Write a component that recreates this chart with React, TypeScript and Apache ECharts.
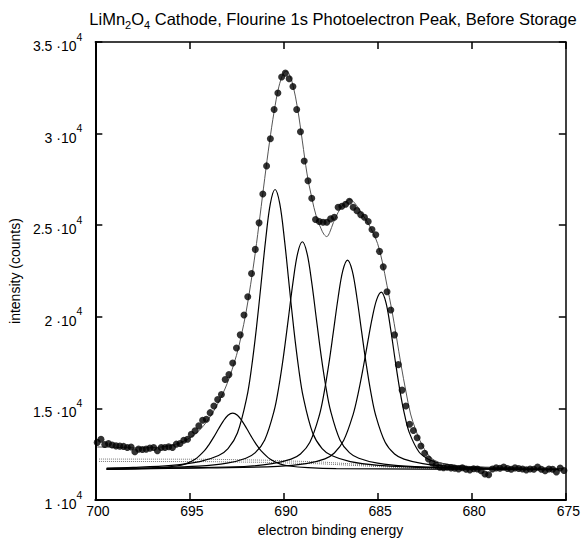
import { useEffect, useRef } from "react";
import * as echarts from "echarts";

const FONT = "'Liberation Sans', Arial, Helvetica, sans-serif";

const titleText = "{n|LiMn}{s|2}{n|O}{s|4}{n| Cathode, Flourine 1s Photoelectron Peak, Before Storage}";
const xAxisTitle = "electron binding energy";
const yAxisTitle = "intensity (counts)";
const yTickMantissas: Record<number, string> = { 10000: "1", 15000: "1.5", 20000: "2", 25000: "2.5", 30000: "3", 35000: "3.5" };

// measured data points (binding energy eV, counts)
const measured: [number, number][] = [
  [699.9, 13150], [699.7, 13320], [699.5, 13030], [699.3, 13090], [699.1, 13010], [698.9, 12960],
  [698.7, 12945], [698.5, 12930], [698.3, 12874], [698.1, 12900], [697.9, 12641], [697.7, 12782],
  [697.5, 12766], [697.3, 12782], [697.1, 12836], [696.9, 12874], [696.7, 12695], [696.5, 12874],
  [696.3, 12874], [696.1, 12912], [695.9, 12874], [695.7, 13053], [695.5, 13091], [695.3, 13270],
  [695.1, 13324], [694.9, 13595], [694.7, 13780], [694.5, 14051], [694.3, 14355], [694.1, 14409],
  [693.9, 14772], [693.7, 15136], [693.5, 15494], [693.3, 15765], [693.1, 16578], [692.9, 16849],
  [692.7, 17484], [692.5, 18297], [692.3, 19018], [692.1, 20103], [691.9, 21101], [691.7, 22364],
  [691.5, 23682], [691.3, 25130], [691.1, 26703], [690.9, 28238], [690.7, 29724], [690.5, 31313],
  [690.3, 32218], [690.1, 33086], [689.9, 33303], [689.7, 32994], [689.5, 32576], [689.3, 31313],
  [689.1, 30103], [688.9, 28509], [688.7, 27424], [688.5, 26470], [688.3, 25309], [688.1, 25200],
  [687.9, 25168], [687.7, 25168], [687.5, 25347], [687.3, 25439], [687.1, 25982], [686.9, 26036],
  [686.7, 26150], [686.5, 26307], [686.3, 25982], [686.1, 25797], [685.9, 25580], [685.7, 25439],
  [685.5, 25201], [685.3, 24767], [685.1, 24479], [684.9, 23574], [684.7, 22728], [684.5, 21372],
  [684.3, 20374], [684.1, 19018], [683.9, 17392], [683.7, 16003], [683.5, 15136], [683.3, 14138],
  [683.1, 13800], [682.9, 13400], [682.7, 12950], [682.5, 12560], [682.3, 12240], [682.1, 12020],
  [681.9, 11900], [681.7, 11800], [681.5, 11770], [681.3, 11790], [681.1, 11760], [680.9, 11740],
  [680.7, 11700], [680.5, 11770], [680.3, 11680], [680.1, 11650], [679.9, 11710], [679.7, 11700],
  [679.5, 11600], [679.3, 11420], [679.1, 11380], [678.9, 11700], [678.7, 11760], [678.5, 11740],
  [678.3, 11800], [678.1, 11720], [677.9, 11680], [677.7, 11760], [677.5, 11720], [677.3, 11700],
  [677.1, 11650], [676.9, 11700], [676.7, 11680], [676.5, 11800], [676.3, 11680], [676.1, 11600],
  [675.9, 11700], [675.7, 11680], [675.5, 11540], [675.3, 11750], [675.1, 11620],
];

// overall fit envelope
const envelope: [number, number][] = [
  [699.9, 12900], [699.0, 12880], [698.0, 12850], [697.0, 12860], [696.5, 12900], [696.0, 12980],
  [695.5, 13120], [695.0, 13380], [694.5, 13780], [694.0, 14400], [693.5, 15250], [693.0, 16350],
  [692.5, 17900], [692.25, 18950], [692.0, 20200], [691.75, 21750], [691.5, 23500], [691.25, 25500],
  [691.0, 27550], [690.75, 29500], [690.5, 31200], [690.25, 32550], [690.0, 33300], [689.85, 33400],
  [689.7, 33250], [689.5, 32650], [689.25, 31350], [689.0, 29600], [688.75, 27800], [688.5, 26500],
  [688.25, 25450], [688.0, 24800], [687.85, 24500], [687.7, 24380], [687.55, 24600], [687.35, 25150],
  [687.1, 25700], [686.85, 26100], [686.6, 26350], [686.45, 26400], [686.25, 26250], [686.0, 25900],
  [685.75, 25500], [685.5, 25100], [685.25, 24600], [685.0, 24000], [684.75, 23000], [684.5, 21700],
  [684.25, 20400], [684.0, 18900], [683.75, 17350], [683.5, 15950], [683.25, 14700], [683.0, 13900],
  [682.75, 13250], [682.5, 12750], [682.25, 12400], [682.0, 12180], [681.5, 11980], [681.0, 11900],
  [680.0, 11830], [678.5, 11780], [677.0, 11750], [675.1, 11720],
];

// fitted component peaks
const peakA: [number, number][] = [
  [699.4, 11693], [698.2, 11715], [696.7, 11768], [695.7, 11862], [695.2, 11979], [694.7, 12226],
  [694.2, 12700], [693.95, 13044], [693.7, 13450], [693.45, 13892], [693.2, 14313], [692.95, 14630],
  [692.7, 14750], [692.45, 14630], [692.2, 14313], [691.95, 13892], [691.7, 13450], [691.45, 13044],
  [691.2, 12700], [690.7, 12226], [690.2, 11979], [689.7, 11862], [688.7, 11768], [687.2, 11715],
  [675.4, 11662],
];
const peakB: [number, number][] = [
  [699.4, 11744], [698.0, 11782], [695.95, 11895], [694.45, 12100], [693.45, 12430], [692.95, 12805],
  [692.45, 13659], [691.95, 15613], [691.7, 17225], [691.45, 19300], [691.2, 21727], [690.95, 24202],
  [690.7, 26176], [690.45, 26950], [690.2, 26176], [689.95, 24202], [689.7, 21727], [689.45, 19300],
  [689.2, 17225], [688.95, 15613], [688.45, 13659], [687.95, 12805], [687.45, 12430], [686.45, 12100],
  [684.95, 11895], [682.0, 11770], [675.4, 11684],
];
const peakC: [number, number][] = [
  [699.4, 11707], [697.0, 11760], [694.5, 11849], [693.0, 12016], [692.0, 12285], [691.5, 12590],
  [691.0, 13285], [690.5, 14875], [690.25, 16187], [690.0, 17875], [689.75, 19850], [689.5, 21864],
  [689.25, 23470], [689.0, 24100], [688.75, 23470], [688.5, 21864], [688.25, 19850], [688.0, 17875],
  [687.75, 16187], [687.5, 14875], [687.0, 13285], [686.5, 12590], [686.0, 12285], [685.0, 12016],
  [683.5, 11849], [681.0, 11760], [675.4, 11684],
];
const peakD: [number, number][] = [
  [699.4, 11685], [695.5, 11760], [692.1, 11833], [690.6, 11987], [689.6, 12234], [689.1, 12514],
  [688.6, 13153], [688.1, 14616], [687.85, 15822], [687.6, 17375], [687.35, 19191], [687.1, 21044],
  [686.85, 22521], [686.6, 23100], [686.35, 22521], [686.1, 21044], [685.85, 19191], [685.6, 17375],
  [685.35, 15822], [685.1, 14616], [684.6, 13153], [684.1, 12514], [683.6, 12234], [682.6, 11987],
  [681.1, 11833], [678.5, 11750], [675.4, 11695],
];
const peakE: [number, number][] = [
  [699.4, 11677], [694.0, 11760], [690.3, 11836], [688.8, 11991], [687.8, 12253], [687.3, 12572],
  [686.8, 13267], [686.3, 14682], [686.05, 15748], [685.8, 17040], [685.55, 18475], [685.3, 19872],
  [685.05, 20941], [684.8, 21350], [684.55, 20750], [684.3, 19272], [684.05, 17509], [683.8, 15881],
  [683.55, 14579], [683.3, 13640], [682.8, 12625], [682.3, 12230], [681.8, 12053], [680.8, 11884],
  [679.3, 11776], [675.4, 11694],
];

// background lines
const background1: [number, number][] = [
  [699.8, 12240], [694.0, 12230], [691.0, 12180], [688.0, 12080], [686.0, 11950], [684.0, 11820],
  [682.0, 11740], [675.2, 11720],
];
const background2: [number, number][] = [
  [699.8, 12110], [694.0, 12100], [691.0, 12060], [688.0, 11980], [686.0, 11880], [684.0, 11780],
  [682.0, 11720], [675.2, 11700],
];

export default function App() {
  const ref = useRef<HTMLDivElement>(null);
  useEffect(() => {
    if (!ref.current) return;
    const chart = echarts.init(ref.current, null, { renderer: "svg" });
    const peakSeries = [peakA, peakB, peakC, peakD, peakE].map((d) => ({
      type: "line",
      data: d,
      smooth: 0.35,
      showSymbol: false,
      symbol: "none",
      lineStyle: { color: "#000", width: 1.2 },
      z: 3,
    }));
    chart.setOption({
      animation: false,
      backgroundColor: "#fff",
      textStyle: { fontFamily: FONT },
      graphic: [
        {
          type: "text",
          x: 333,
          y: 10,
          style: {
            text: titleText,
            align: "center",
            verticalAlign: "top",
            fill: "#000",
            rich: {
              n: { fontSize: 16.5, lineHeight: 20, fontFamily: FONT, fill: "#000", verticalAlign: "top" },
              s: { fontSize: 11, lineHeight: 11, fontFamily: FONT, fill: "#000", verticalAlign: "bottom" },
            },
          },
        },
      ],
      grid: { left: 95, right: 16, top: 42, bottom: 39 },
      xAxis: [
        {
          type: "value",
          min: 675,
          max: 700,
          interval: 5,
          inverse: true,
          position: "bottom",
          name: xAxisTitle,
          nameLocation: "middle",
          nameGap: 22,
          nameTextStyle: { fontSize: 14, color: "#000", fontFamily: FONT },
          axisLine: { show: true, onZero: false, lineStyle: { color: "#000", width: 2 } },
          axisTick: { show: true, inside: true, length: 7, lineStyle: { color: "#000", width: 1.5 } },
          axisLabel: { fontSize: 14, color: "#000", margin: 4, fontFamily: FONT, padding: [0, 0, 0, 5] },
          splitLine: { show: false },
        },
        {
          type: "value",
          min: 675,
          max: 700,
          interval: 5,
          inverse: true,
          position: "top",
          axisLine: { show: true, onZero: false, lineStyle: { color: "#000", width: 1.5 } },
          axisTick: { show: true, inside: true, length: 7, lineStyle: { color: "#000", width: 1.5 } },
          axisLabel: { show: false },
          splitLine: { show: false },
        },
      ],
      yAxis: [
        {
          type: "value",
          min: 10000,
          max: 35000,
          interval: 5000,
          position: "left",
          name: yAxisTitle,
          nameLocation: "middle",
          nameGap: 68,
          nameRotate: 90,
          nameTextStyle: { fontSize: 14, color: "#000", fontFamily: FONT },
          axisLine: { show: true, onZero: false, lineStyle: { color: "#000", width: 2 } },
          axisTick: { show: true, inside: true, length: 7, lineStyle: { color: "#000", width: 1.5 } },
          axisLabel: {
            margin: 13,
            formatter: (v: number) => `{m|${yTickMantissas[v] ?? ""} ·10}{s|4}`,
            rich: {
              m: { fontSize: 14, lineHeight: 22, color: "#000", fontFamily: FONT, verticalAlign: "bottom" },
              s: { fontSize: 10.5, lineHeight: 10, color: "#000", fontFamily: FONT, verticalAlign: "top" },
            },
          },
          splitLine: { show: false },
        },
        {
          type: "value",
          min: 10000,
          max: 35000,
          interval: 5000,
          position: "right",
          axisLine: { show: true, onZero: false, lineStyle: { color: "#000", width: 1.5 } },
          axisTick: { show: true, inside: true, length: 7, lineStyle: { color: "#000", width: 1.5 } },
          axisLabel: { show: false },
          splitLine: { show: false },
        },
      ],
      series: [
        {
          type: "line",
          data: background1,
          showSymbol: false,
          symbol: "none",
          lineStyle: { color: "#777", width: 1, type: "dotted" },
          z: 2,
        },
        {
          type: "line",
          data: background2,
          showSymbol: false,
          symbol: "none",
          lineStyle: { color: "#777", width: 1, type: "dotted" },
          z: 2,
        },
        ...peakSeries,
        {
          type: "line",
          data: envelope,
          smooth: 0.35,
          showSymbol: false,
          symbol: "none",
          lineStyle: { color: "#555", width: 1 },
          z: 4,
        },
        {
          type: "scatter",
          data: measured,
          symbol: "circle",
          symbolSize: 7,
          itemStyle: { color: "#000" },
          z: 5,
        },
      ],
    });
    return () => chart.dispose();
  }, []);
  return (
    <div
      ref={ref}
      style={{ position: "fixed", left: 0, top: 0, width: 583, height: 542, background: "#fff" }}
    />
  );
}
